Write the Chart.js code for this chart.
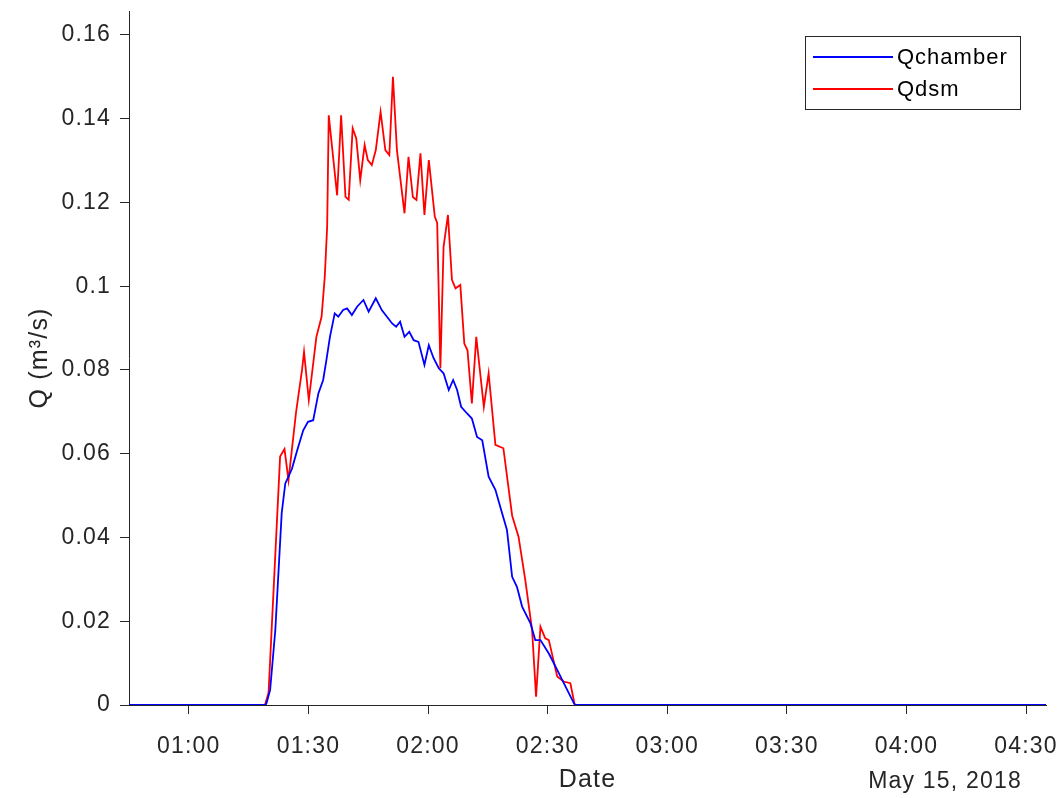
<!DOCTYPE html>
<html>
<head>
<meta charset="utf-8">
<script src="https://cdn.jsdelivr.net/npm/chart.js@4.4.1/dist/chart.umd.min.js"></script>
<style>
  html, body { margin: 0; padding: 0; background: #fff; }
  #wrap { width: 1062px; height: 798px; position: relative; }
</style>
</head>
<body>
<div id="wrap"><canvas id="c"></canvas></div>
<script>
// time in minutes after midnight, May 15 2018
var tChamber = [45, 79.3, 79.6, 80.4, 81.7, 83.3, 84.2, 85.0, 85.9, 87.1, 88.7, 89.9, 91.2, 92.5, 93.7, 94.5, 95.4,
  96.6, 97.5, 98.7, 99.7, 100.9, 102.2, 103.8, 105.1, 106.9, 108.4, 109.7, 111.0, 112.0, 113.0, 114.1, 115.3,
  116.4, 117.6, 119.1, 120.2, 121.4, 122.7, 123.9, 125.2, 126.3, 127.3, 128.3, 129.8, 131.0, 132.3, 133.6,
  135.2, 136.9, 138.6, 139.8, 141.1, 142.3, 143.6, 145.7, 146.9, 148.2, 150.3, 152.4, 154.5, 156.6, 157.0, 275];
var qChamber = [0, 0, 0.0008, 0.0036, 0.0179, 0.0458, 0.0529, 0.0545, 0.0565, 0.0605, 0.0656, 0.0676, 0.0680, 0.0744,
  0.0776, 0.0823, 0.0879, 0.0935, 0.0927, 0.0943, 0.0947, 0.0931, 0.0951, 0.0967, 0.0939, 0.0971, 0.0943,
  0.0927, 0.0911, 0.0903, 0.0915, 0.0879, 0.0891, 0.0871, 0.0867, 0.0812, 0.0859, 0.0828, 0.0804, 0.0792,
  0.0752, 0.0776, 0.0752, 0.0712, 0.0696, 0.0684, 0.0640, 0.0632, 0.0545, 0.0514, 0.0457, 0.0418, 0.0306,
  0.0282, 0.0235, 0.0195, 0.0155, 0.0155, 0.0123, 0.0084, 0.0044, 0.0004, 0, 0];

var tDsm = [45, 79.1, 80.0, 82.9, 84.0, 85.0, 86.9, 88.4, 88.9, 90.1, 92.0, 93.3, 94.1, 94.7, 95.1, 97.2, 98.2,
  99.3, 100.1, 101.1, 102.0, 103.0, 104.1, 104.9, 105.9, 106.9, 108.1, 109.3, 110.3, 111.2, 112.2, 114.1,
  115.1, 116.2, 117.1, 118.1, 119.1, 120.2, 121.7, 122.3, 123.1, 123.9, 125.0, 126.0, 126.9, 128.1, 129.1,
  129.9, 131.0, 132.1, 134.0, 135.2, 136.9, 138.9, 141.1, 142.7, 144.4, 146.1, 147.1, 148.2, 149.4, 150.3,
  152.4, 154.0, 155.7, 156.8, 275];
var qDsm = [0, 0, 0.0029, 0.0593, 0.0611, 0.0537, 0.0699, 0.0800, 0.0843, 0.0728, 0.0879, 0.0927, 0.1022, 0.1142,
  0.1408, 0.1217, 0.1408, 0.1213, 0.1206, 0.1377, 0.1353, 0.1253, 0.1337, 0.1301, 0.1289, 0.1325, 0.1416,
  0.1325, 0.1313, 0.1500, 0.1325, 0.1174, 0.1309, 0.1213, 0.1206, 0.1317, 0.1170, 0.1301, 0.1166, 0.1151,
  0.0804, 0.1094, 0.1170, 0.1015, 0.0995, 0.1003, 0.0863, 0.0847, 0.0720, 0.0879, 0.0712, 0.0792, 0.0621,
  0.0613, 0.0452, 0.0402, 0.0298, 0.0179, 0.0020, 0.0187, 0.0159, 0.0155, 0.0068, 0.0056, 0.0052, 0, 0];

var xTicks = [60, 90, 120, 150, 180, 210, 240, 270];
var yTicks = [0, 0.02, 0.04, 0.06, 0.08, 0.1, 0.12, 0.14, 0.16];
var dateLabel = "May 15, 2018";

var INK = "#262626";
var FONT = "'Liberation Sans', Arial, Helvetica, sans-serif";
var SPACING = "1.2px";

function pts(t, q) {
  return t.map(function(v, i) { return { x: v, y: q[i] }; });
}

function hhmm(v) {
  var h = Math.floor(v / 60), m = Math.round(v % 60);
  return (h < 10 ? "0" : "") + h + ":" + (m < 10 ? "0" : "") + m;
}

// MATLAB text is a bit wider spaced than canvas text
var spacing = {
  id: "spacing",
  beforeUpdate: function(chart) { chart.ctx.letterSpacing = SPACING; },
  beforeDraw: function(chart) { chart.ctx.letterSpacing = SPACING; }
};

// box legend in the upper right, MATLAB style
var boxLegend = {
  id: "boxLegend",
  afterDraw: function(chart) {
    var ctx = chart.ctx;
    var x0 = 805, y0 = 36, w = 215, h = 73;
    ctx.save();
    ctx.letterSpacing = "1px";
    ctx.fillStyle = "#fff";
    ctx.fillRect(x0, y0, w, h);
    ctx.strokeStyle = INK;
    ctx.lineWidth = 1;
    ctx.strokeRect(x0 + 0.5, y0 + 0.5, w, h);
    ctx.font = "22px " + FONT;
    ctx.textBaseline = "middle";
    chart.data.datasets.forEach(function(ds, i) {
      var y = y0 + 21 + i * 32;
      ctx.strokeStyle = ds.borderColor;
      ctx.lineWidth = 1.8;
      ctx.beginPath();
      ctx.moveTo(x0 + 8, y);
      ctx.lineTo(x0 + 88, y);
      ctx.stroke();
      ctx.fillStyle = "#000";
      ctx.fillText(ds.label, x0 + 92, y + 1);
    });
    // secondary date label under the time axis
    ctx.letterSpacing = SPACING;
    ctx.fillStyle = INK;
    ctx.font = "23px " + FONT;
    ctx.textAlign = "right";
    ctx.textBaseline = "alphabetic";
    ctx.fillText(dateLabel, 1022, 788);
    ctx.restore();
  }
};

new Chart(document.getElementById("c").getContext("2d"), {
  type: "line",
  data: {
    datasets: [
      { label: "Qchamber", data: pts(tChamber, qChamber), borderColor: "#0000ff", borderWidth: 1.8, pointRadius: 0, tension: 0, fill: false },
      { label: "Qdsm",     data: pts(tDsm, qDsm),         borderColor: "#ff0000", borderWidth: 1.8, pointRadius: 0, tension: 0, fill: false }
    ]
  },
  options: {
    responsive: true,
    maintainAspectRatio: false,
    animation: false,
    layout: { padding: { top: 11, right: 16, left: 0, bottom: 0 } },
    plugins: { legend: { display: false }, tooltip: { enabled: false } },
    scales: {
      x: {
        type: "linear",
        min: 45, max: 275,
        afterBuildTicks: function(s) { s.ticks = xTicks.map(function(v) { return { value: v }; }); },
        afterFit: function(s) { s.height = 93; s.paddingLeft = 0; s.paddingRight = 0; },
        grid: { display: true, drawOnChartArea: false, drawTicks: true, tickLength: 9, color: INK },
        border: { display: true, color: INK, width: 1 },
        ticks: { color: INK, font: { family: FONT, size: 23 }, padding: 19, maxRotation: 0, autoSkip: false,
                 callback: function(v) { return hhmm(v); } },
        title: { display: true, text: "Date", color: INK, font: { family: FONT, size: 25 }, padding: { bottom: 3 } }
      },
      y: {
        type: "linear",
        min: 0, max: 0.1657,
        afterBuildTicks: function(s) { s.ticks = yTicks.map(function(v) { return { value: v }; }); },
        afterFit: function(s) { s.width = 129; s.paddingTop = 0; s.paddingBottom = 0; },
        grid: { display: true, drawOnChartArea: false, drawTicks: true, tickLength: 9, color: INK },
        border: { display: true, color: INK, width: 1 },
        ticks: { color: INK, font: { family: FONT, size: 23 }, padding: 9,
                 callback: function(v) { return String(+v.toFixed(2)); } },
        title: { display: true, text: "Q (m³/s)", color: INK, font: { family: FONT, size: 25 }, padding: { top: 25 } }
      }
    }
  },
  plugins: [spacing, boxLegend]
});
</script>
</body>
</html>
